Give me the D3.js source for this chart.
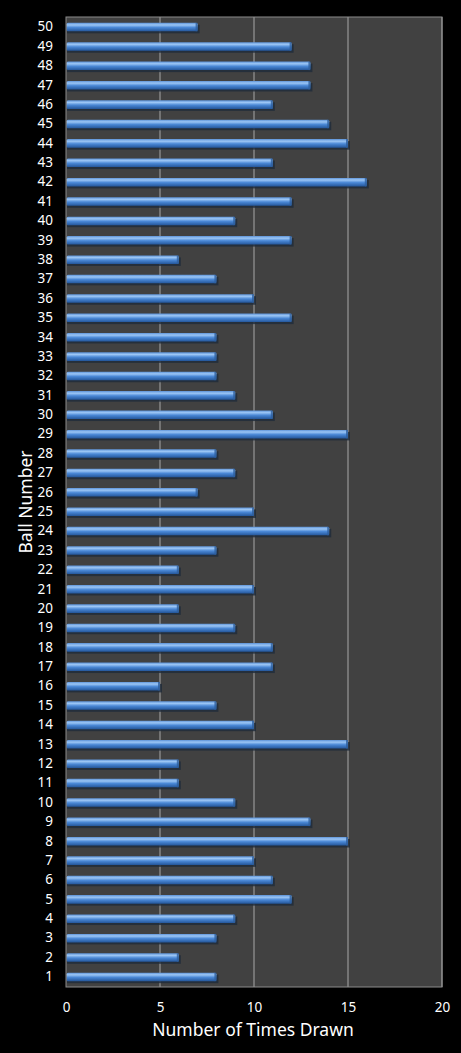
<!DOCTYPE html>
<html>
<head>
<meta charset="utf-8">
<script src="https://cdn.jsdelivr.net/npm/d3@7"></script>
<style>
  html, body { margin: 0; padding: 0; background: #000; }
  svg { display: block; }
  text { font-family: "Noto Sans", "DejaVu Sans", sans-serif; fill: #fff; }
</style>
</head>
<body>
<div id="chart"></div>
<script>
// ball numbers and how often each was drawn
const balls = d3.range(1, 51).map(String);
const timesDrawn = [
  8, 6, 8, 9, 12, 11, 10, 15, 13, 9,
  6, 6, 15, 10, 8, 5, 11, 11, 9, 6,
  10, 6, 8, 14, 10, 7, 9, 8, 15, 11,
  9, 8, 8, 8, 12, 10, 8, 6, 12, 9,
  12, 16, 11, 15, 14, 11, 13, 13, 12, 7
];
const xTicks = [0, 5, 10, 15, 20];

const data = balls.map((b, i) => ({ ball: b, value: timesDrawn[i] }));

const width = 461, height = 1053;
const margin = { top: 17, right: 19, bottom: 66, left: 66 };

const svg = d3.select('#chart')
  .append('svg')
  .attr('width', width)
  .attr('height', height);

const defs = svg.append('defs');
const grad = defs.append('linearGradient')
  .attr('id', 'barGrad')
  .attr('x1', 0).attr('y1', 0).attr('x2', 0).attr('y2', 1);
grad.append('stop').attr('offset', '0%').attr('stop-color', '#5d93d8');
grad.append('stop').attr('offset', '25%').attr('stop-color', '#9cc6f5');
grad.append('stop').attr('offset', '55%').attr('stop-color', '#4a88d6');
grad.append('stop').attr('offset', '100%').attr('stop-color', '#24569a');

const x = d3.scaleLinear()
  .domain([0, 20])
  .range([margin.left, width - margin.right]);

const y = d3.scaleBand()
  .domain(balls.slice().reverse())
  .range([margin.top, height - margin.bottom])
  .paddingInner(0.56)
  .paddingOuter(0.3);

// plot background
svg.append('rect')
  .attr('x', margin.left)
  .attr('y', margin.top)
  .attr('width', x(20) - x(0))
  .attr('height', height - margin.bottom - margin.top)
  .attr('fill', '#414141');

// vertical gridlines
svg.append('g')
  .selectAll('line')
  .data(xTicks.slice(1))
  .join('line')
    .attr('x1', d => x(d)).attr('x2', d => x(d))
    .attr('y1', margin.top).attr('y2', height - margin.bottom)
    .attr('stroke', '#a8a8a8')
    .attr('stroke-width', 1);

// bar shadows
svg.append('g')
  .selectAll('rect')
  .data(data)
  .join('rect')
    .attr('x', x(0) + 1)
    .attr('y', d => y(d.ball) + 2)
    .attr('width', d => x(d.value) - x(0) + 1)
    .attr('height', y.bandwidth())
    .attr('fill', '#1e2a3a')
    .attr('opacity', 0.8);

// bars
svg.append('g')
  .selectAll('rect')
  .data(data)
  .join('rect')
    .attr('x', x(0) + 0.5)
    .attr('y', d => y(d.ball))
    .attr('width', d => x(d.value) - x(0) - 0.5)
    .attr('height', y.bandwidth())
    .attr('rx', 1.5)
    .attr('fill', 'url(#barGrad)');

// bar end caps
svg.append('g')
  .selectAll('rect')
  .data(data)
  .join('rect')
    .attr('x', d => x(d.value) - 2)
    .attr('y', d => y(d.ball))
    .attr('width', 2)
    .attr('height', y.bandwidth())
    .attr('fill', '#2e5f9e')
    .attr('opacity', 0.8);

// plot border
svg.append('rect')
  .attr('x', margin.left)
  .attr('y', margin.top)
  .attr('width', x(20) - x(0))
  .attr('height', height - margin.bottom - margin.top)
  .attr('fill', 'none')
  .attr('stroke', '#8c8c8c')
  .attr('stroke-width', 1);

// x axis
const xAxis = svg.append('g')
  .attr('transform', `translate(0,${height - margin.bottom})`)
  .call(d3.axisBottom(x).tickValues(xTicks).tickSize(0).tickPadding(15));
xAxis.select('.domain').remove();
xAxis.selectAll('text').attr('font-size', 13.5).attr('fill', '#fff');

// y axis
const yAxis = svg.append('g')
  .attr('transform', `translate(${margin.left},0)`)
  .call(d3.axisLeft(y).tickSize(0).tickPadding(13));
yAxis.select('.domain').remove();
yAxis.selectAll('text').attr('font-size', 13.5).attr('fill', '#fff');

// axis titles
svg.append('text')
  .attr('x', (x(0) + x(20)) / 2 - 1)
  .attr('y', 1036)
  .attr('text-anchor', 'middle')
  .attr('font-size', 17.5)
  .text('Number of Times Drawn');

svg.append('text')
  .attr('transform', 'translate(32,502) rotate(-90)')
  .attr('text-anchor', 'middle')
  .attr('font-size', 17.5)
  .text('Ball Number');
</script>
</body>
</html>
